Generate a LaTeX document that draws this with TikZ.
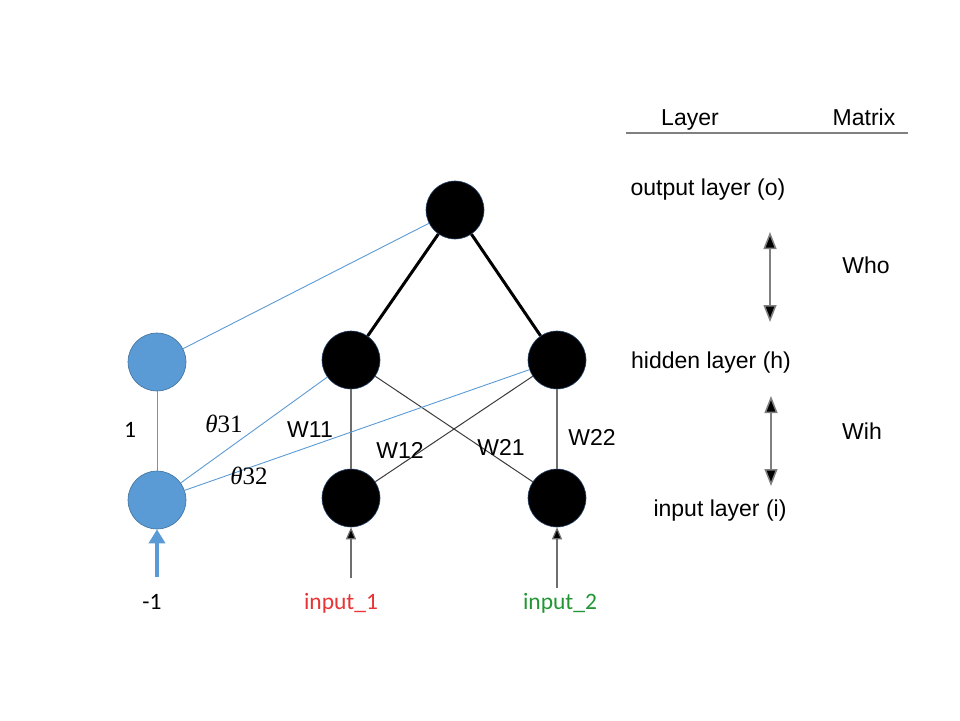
\documentclass[tikz,border=0pt]{standalone}
\usepackage{fontspec}
\setmainfont{Liberation Sans}
\newfontfamily\calib{Carlito}
\newfontfamily\serifm{Liberation Serif}
\usetikzlibrary{arrows.meta}
\definecolor{biasblue}{RGB}{91,155,213}
\definecolor{biasedge}{RGB}{65,113,156}
\definecolor{nodeedge}{RGB}{40,70,110}
\definecolor{linkgray}{RGB}{110,110,110}
\definecolor{darklink}{RGB}{60,60,60}
\definecolor{inred}{RGB}{232,52,52}
\definecolor{ingreen}{RGB}{34,150,52}
\tikzset{
  neuron/.style={circle, minimum size=58pt, inner sep=0pt, fill=black, draw=nodeedge, line width=0.6pt},
  biasnode/.style={circle, minimum size=58pt, inner sep=0pt, fill=biasblue, draw=biasedge, line width=0.6pt},
  lbl/.style={font=\fontsize{23}{27}\selectfont, inner sep=0pt, text height=16pt, text depth=4.5pt},
  clbl/.style={font=\calib\fontsize{23.5}{27}\selectfont, inner sep=0pt, text height=16pt, text depth=4.5pt},
  thlbl/.style={font=\serifm\fontsize{25}{29}\selectfont, inner sep=0pt, text height=16pt, text depth=4.5pt},
  biaslink/.style={draw=biasblue, line width=0.9pt},
  strong/.style={draw=black, line width=3pt},
  vlink/.style={draw=linkgray, line width=1.2pt},
  dlink/.style={draw=darklink, line width=1pt},
  feed/.style={draw=linkgray, line width=1.2pt, -{Triangle[length=12pt,width=10pt,fill=black]}},
  span/.style={draw=gray, line width=1.5pt, {Triangle[length=17pt,width=13pt,fill=black]}-{Triangle[length=17pt,width=13pt,fill=black]}}
}
\begin{document}
\begin{tikzpicture}[x=1pt,y=-1pt]
\useasboundingbox[fill=white] (0,0) rectangle (960,720);

% neurons
\node[neuron] (o)  at (455,210) {};
\node[neuron] (h1) at (351,360) {};
\node[neuron] (h2) at (557,360) {};
\node[neuron] (i1) at (351,498) {};
\node[neuron] (i2) at (557,498) {};
\node[biasnode] (b1) at (157,362) {};
\node[biasnode] (b2) at (157,500) {};

% free ends of the feeding arrows
\coordinate (f1) at (351,578);
\coordinate (f2) at (557,588);
\coordinate (fb) at (157,577);

% connections
\draw[strong] (o) -- (h1);
\draw[strong] (o) -- (h2);
\draw[vlink] (h1) -- (i1);
\draw[vlink] (h2) -- (i2);
\draw[dlink] (h1) -- (i2);
\draw[dlink] (h2) -- (i1);
\draw[biaslink] (b1) -- (o);
\draw[biaslink] (b2) -- (h1);
\draw[biaslink] (b2) -- (h2);
\draw[biaslink] (b1) -- (b2);

% inputs
\draw[feed] (f1) -- (i1);
\draw[feed] (f2) -- (i2);
\draw[draw=biasblue, line width=4pt, -{Triangle[length=14pt,width=16pt]}] (fb) -- (b2);

% weight labels
\node[clbl] (one) at (130,432) {1};
\node[thlbl] (t31) at (224,427) {\itshape θ\upshape 31};
\node[thlbl] (t32) at (249,479) {\itshape θ\upshape 32};
\node[lbl] (w11) at (310,432) {W11};
\node[lbl] (w12) at (400,453) {W12};
\node[lbl] (w21) at (501,450) {W21};
\node[lbl] (w22) at (592,440) {W22};

% input labels
\node[clbl] (m1) at (152,604) {-1};
\node[clbl, text=inred] (in1) at (341,604) {input\_1};
\node[clbl, text=ingreen] (in2) at (560,604) {input\_2};

% layer / matrix table
\node[lbl] (hl) at (690,120) {Layer};
\node[lbl] (hm) at (864,120) {Matrix};
\coordinate (r1) at (626,133);
\coordinate (r2) at (908,133);
\draw[draw=gray, line width=1.3pt] (r1) -- (r2);
\node[lbl] (lo) at (708,190) {output layer (o)};
\node[lbl] (lh) at (711,363) {hidden layer (h)};
\node[lbl] (li) at (720,511) {input layer (i)};
\coordinate (a1) at (770,232);
\coordinate (a2) at (770,322);
\coordinate (a3) at (771,396);
\coordinate (a4) at (771,486);
\draw[span] (a1) -- (a2);
\draw[span] (a3) -- (a4);
\node[lbl] (who) at (866,268) {Who};
\node[lbl] (wih) at (862,434) {Wih};
\end{tikzpicture}
\end{document}
